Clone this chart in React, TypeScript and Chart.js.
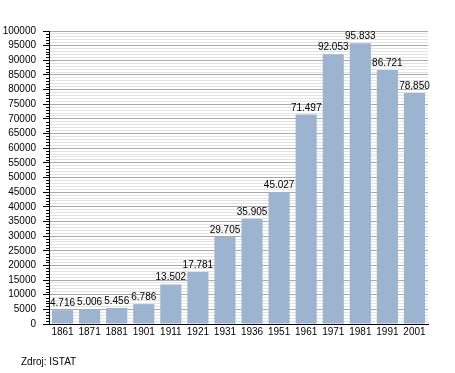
import React, { useEffect, useRef } from "react";
import { Chart, registerables } from "chart.js";

Chart.register(...registerables);

const categories = ["1861", "1871", "1881", "1901", "1911", "1921", "1931", "1936", "1951", "1961", "1971", "1981", "1991", "2001"];
const population = [4716, 5006, 5456, 6786, 13502, 17781, 29705, 35905, 45027, 71497, 92053, 95833, 86721, 78850];
const yMax = 100000;
const yMinorStep = 1000;
const yMajorStep = 5000;
const sourceText = "Zdroj: ISTAT";

const FONT = "'Liberation Sans', Arial, sans-serif";

function fmt(v: number): string {
  return String(v).replace(/\B(?=(\d{3})+(?!\d))/g, ".");
}

const minorTicksPlugin = {
  id: "minorTicks",
  afterDraw(chart: any) {
    const y = chart.scales.y;
    const ctx = chart.ctx;
    const x0 = y.right;
    ctx.save();
    ctx.strokeStyle = "#000";
    ctx.lineWidth = 1;
    ctx.beginPath();
    for (let v = 0; v <= yMax; v += yMinorStep) {
      if (v % yMajorStep === 0) continue;
      const py = Math.round(y.getPixelForValue(v)) + 0.5;
      ctx.moveTo(x0 - 3, py);
      ctx.lineTo(x0, py);
    }
    ctx.stroke();
    ctx.restore();
  },
};

const valueLabelsPlugin = {
  id: "valueLabels",
  afterDatasetsDraw(chart: any) {
    const ctx = chart.ctx;
    const meta = chart.getDatasetMeta(0);
    ctx.save();
    ctx.font = `10px ${FONT}`;
    ctx.fillStyle = "#000";
    ctx.textAlign = "center";
    ctx.textBaseline = "alphabetic";
    meta.data.forEach((bar: any, i: number) => {
      ctx.fillText(fmt(population[i]), bar.x, bar.y - 4);
    });
    ctx.restore();
  },
};

export default function App() {
  const ref = useRef<HTMLCanvasElement | null>(null);

  useEffect(() => {
    if (!ref.current) return;
    Chart.defaults.font.family = FONT;
    Chart.defaults.font.size = 10;
    Chart.defaults.color = "#000";
    const chart = new Chart(ref.current, {
      type: "bar",
      data: {
        labels: categories,
        datasets: [
          {
            data: population,
            backgroundColor: "#9cb4cf",
            borderWidth: 0,
            barPercentage: 0.78,
            categoryPercentage: 1,
          },
        ],
      },
      options: {
        animation: false,
        responsive: false,
        devicePixelRatio: 1,
        layout: { padding: { top: 31, right: 27, left: 0, bottom: 0 } },
        plugins: { legend: { display: false }, tooltip: { enabled: false } },
        scales: {
          x: {
            grid: { display: false, drawTicks: false },
            border: { display: true, color: "#000", width: 1 },
            ticks: { padding: 2, color: "#000", font: { size: 10 }, maxRotation: 0, minRotation: 0, autoSkip: false },
            afterFit(scale: any) {
              scale.height = 49;
            },
          },
          y: {
            min: 0,
            max: yMax,
            border: { display: true, color: "#000", width: 1 },
            grid: {
              color: (c: any) => (c.tick && c.tick.value % yMajorStep === 0 ? "#a9a9a9" : "#e3e3e3"),
              tickColor: (c: any) => (c.tick && c.tick.value % yMajorStep === 0 ? "#000" : "rgba(0,0,0,0)"),
              tickLength: 6,
            },
            ticks: {
              stepSize: yMinorStep,
              autoSkip: false,
              padding: 7,
              color: "#000",
              font: { size: 10 },
              callback: (v: any) => (Number(v) % yMajorStep === 0 ? String(v) : ""),
            },
            afterFit(scale: any) {
              scale.width = 49;
            },
          },
        },
      },
      plugins: [minorTicksPlugin, valueLabelsPlugin],
    });
    return () => chart.destroy();
  }, []);

  return (
    <div style={{ position: "absolute", left: 0, top: 0, width: 455, height: 373, background: "#fff" }}>
      <canvas ref={ref} width={455} height={373} style={{ width: 455, height: 373, display: "block" }} />
      <div
        style={{
          position: "absolute",
          left: 21,
          top: 357,
          fontFamily: FONT,
          fontSize: 10,
          lineHeight: "10px",
          color: "#000",
          whiteSpace: "nowrap",
        }}
      >
        {sourceText}
      </div>
    </div>
  );
}
